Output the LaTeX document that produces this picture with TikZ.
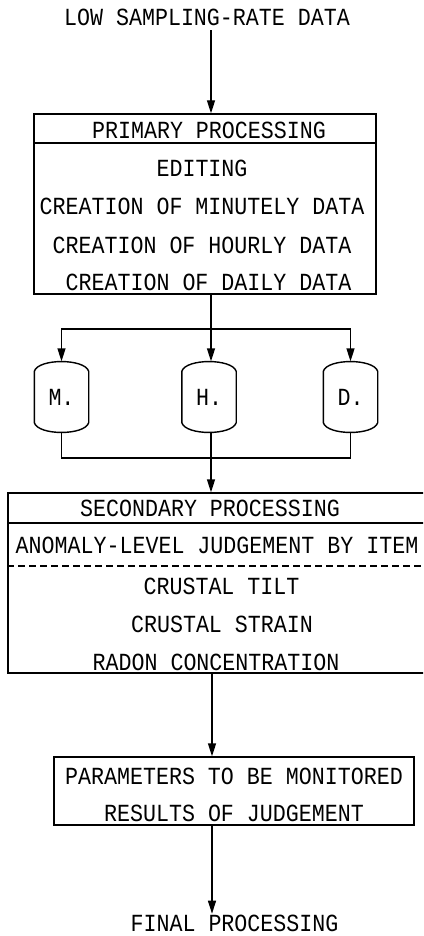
\documentclass[tikz,border=0pt]{standalone}
\usepackage{fontspec}
\newfontfamily\plotfont[FakeStretch=0.88]{Liberation Mono}
\usetikzlibrary{arrows.meta}
\newcommand{\drumshape}[1]{%
  \draw ([yshift=-10pt]#1.north west)
    .. controls ([xshift=4pt,yshift=3pt]#1.north west) and ([xshift=-4pt,yshift=3pt]#1.north east) ..
    ([yshift=-10pt]#1.north east)
    -- ([yshift=10pt]#1.south east)
    .. controls ([xshift=-4pt,yshift=-3pt]#1.south east) and ([xshift=4pt,yshift=-3pt]#1.south west) ..
    ([yshift=10pt]#1.south west) -- cycle;}
\begin{document}
\begin{tikzpicture}[x=1pt,y=-1pt,line width=1.4pt,
  lbl/.style={font=\plotfont\fontsize{24.6}{26}\selectfont,inner sep=0pt,anchor=center},
  arr/.style={-{Triangle[length=13pt,width=8pt]}},
  boxn/.style={draw,rectangle,inner sep=0pt},
  drum/.style={rectangle,inner sep=0pt,minimum width=53,minimum height=70,font=\plotfont\fontsize{24.6}{26}\selectfont}]
\useasboundingbox (0,0) rectangle (423,936);
\clip (0,0) rectangle (423,936);
% top label
\node[lbl] (low) at (207,17) {LOW SAMPLING-RATE DATA};
% primary box
\node[boxn,minimum width=342,minimum height=180] (prim) at (205,204) {};
\draw (prim.west |- 0,143) -- (prim.east |- 0,143);
\node[lbl] (p0) at (209,130) {PRIMARY PROCESSING};
\node[lbl] (p1) at (202,168) {EDITING};
\node[lbl] (p2) at (202,206) {CREATION OF MINUTELY DATA};
\node[lbl] (p3) at (202,245) {CREATION OF HOURLY DATA};
\node[lbl] (p4) at (208.5,282) {CREATION OF DAILY DATA};
% drums
\node[drum] (M) at (61.5,397) {M.};
\node[drum] (H) at (209,397) {H.};
\node[drum] (D) at (350.5,397) {D.};
\drumshape{M}\drumshape{H}\drumshape{D}
% secondary box
\node[boxn,minimum width=422,minimum height=180] (sec) at (219,583) {};
\draw (sec.west |- 0,523) -- (sec.east |- 0,523);
\draw[dash pattern=on 7pt off 4pt] (sec.west |- 0,566) -- (sec.east |- 0,566);
\node[lbl] (s0) at (210,508) {SECONDARY PROCESSING};
\node[lbl] (s1) at (217,545) {ANOMALY-LEVEL JUDGEMENT BY ITEM};
\node[lbl] (s2) at (221.5,586) {CRUSTAL TILT};
\node[lbl] (s3) at (222,624) {CRUSTAL STRAIN};
\node[lbl] (s4) at (216,662) {RADON CONCENTRATION};
% parameters box
\node[boxn,minimum width=360,minimum height=68] (par) at (234,791) {};
\node[lbl] (r0) at (234,776) {PARAMETERS TO BE MONITORED};
\node[lbl] (r1) at (234,813) {RESULTS OF JUDGEMENT};
% final label
\node[lbl] (fin) at (234.5,923) {FINAL PROCESSING};
% junctions
\coordinate (bus1) at (211,329);
\coordinate (bus2) at (211,458);
% connectors
\draw[arr] ([xshift=4pt,yshift=-4pt]low.south) -- ([xshift=6pt]prim.north);
\draw ([xshift=6pt]prim.south) -- (bus1);
\draw[arr] (bus1) -| (M.north);
\draw[arr] (bus1) -| (D.north);
\draw[arr] (bus1) -- (bus1 |- H.north);
\draw (M.south) |- (bus2);
\draw (D.south) |- (bus2);
\draw (bus1 |- H.south) -- (bus2);
\draw[arr] (bus2) -- (bus2 |- sec.north);
\draw[arr] ([xshift=-7pt]sec.south) -- ([xshift=-7pt]sec.south |- par.north);
\draw[arr] ([xshift=-22pt]par.south) -- ++(0,88);
\end{tikzpicture}
\end{document}
